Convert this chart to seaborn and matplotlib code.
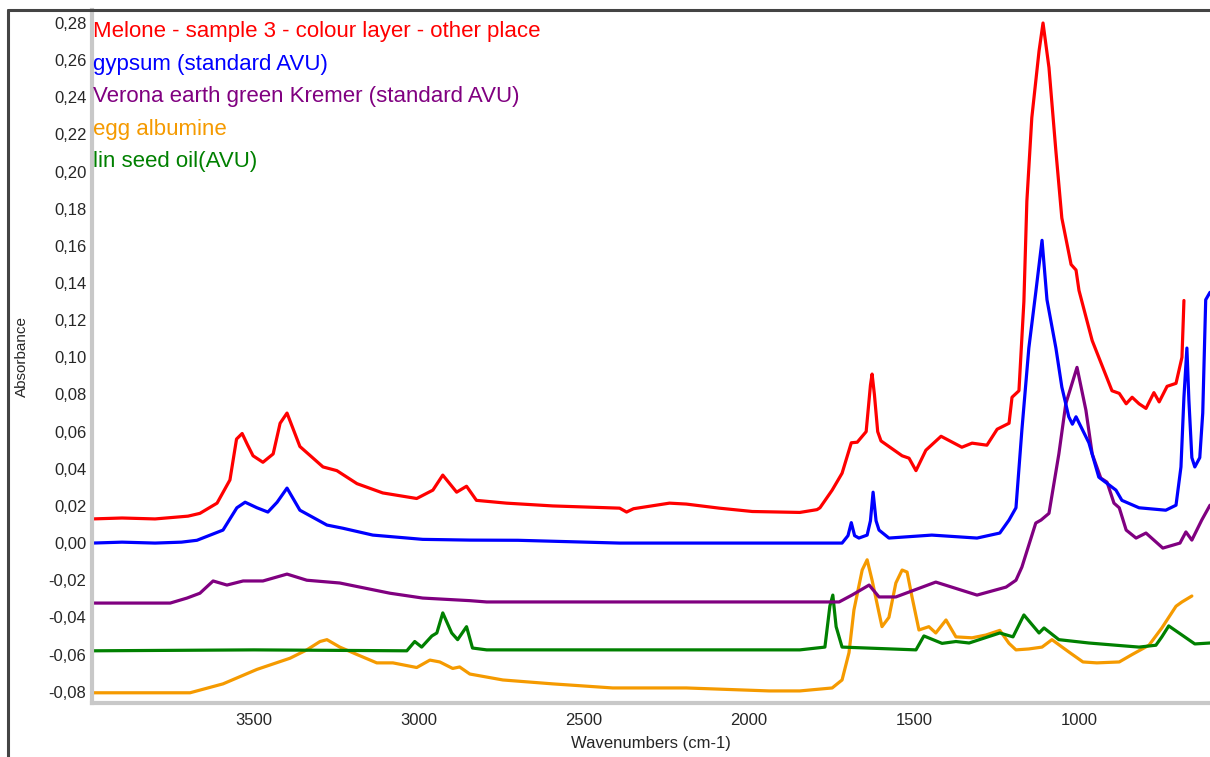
import numpy as np
import pandas as pd
import matplotlib
matplotlib.use("Agg")
import matplotlib.pyplot as plt
import seaborn as sns
from matplotlib.ticker import MultipleLocator, FuncFormatter
from matplotlib.lines import Line2D

melone_wn = [3990, 3900, 3800, 3700, 3664, 3612, 3573, 3553, 3536, 3520, 3503, 3473, 3442, 3421,
             3400, 3361, 3291, 3249, 3188, 3110, 3007, 2958, 2928, 2886, 2856, 2826, 2735, 2595,
             2392, 2371, 2350, 2241, 2190, 2090, 1990, 1846, 1794, 1785, 1748, 1718, 1690, 1672,
             1645, 1632, 1627, 1620, 1610, 1600, 1576, 1536, 1515, 1494, 1464, 1418, 1355, 1324,
             1279, 1248, 1212, 1203, 1182, 1167, 1158, 1143, 1121, 1109, 1091, 1070, 1052, 1024,
             1009, 1000, 960, 900, 878, 857, 839, 818, 797, 773, 757, 733, 706, 688, 684, 682]
melone_abs = [0.013, 0.0135, 0.013, 0.0145, 0.016, 0.0215, 0.034, 0.056, 0.059, 0.053, 0.047,
              0.0435, 0.048, 0.0645, 0.070, 0.052, 0.041, 0.039, 0.032, 0.027, 0.024, 0.0285,
              0.0366, 0.0274, 0.0306, 0.023, 0.0215, 0.020, 0.0188, 0.0167, 0.0185, 0.0215, 0.021,
              0.0188, 0.017, 0.0165, 0.018, 0.019, 0.0285, 0.0376, 0.054, 0.0543, 0.060, 0.085,
              0.091, 0.080, 0.060, 0.055, 0.052, 0.047, 0.0457, 0.039, 0.050, 0.0575, 0.0516,
              0.0538, 0.0527, 0.0613, 0.0645, 0.0785, 0.082, 0.13, 0.184, 0.229, 0.265, 0.280,
              0.256, 0.211, 0.175, 0.150, 0.147, 0.136, 0.109, 0.082, 0.0806, 0.075, 0.0785, 0.075,
              0.0725, 0.081, 0.076, 0.0844, 0.086, 0.100, 0.120, 0.1306]

gypsum_wn = [3990, 3900, 3800, 3720, 3673, 3594, 3552, 3527, 3491, 3458, 3430, 3400, 3361, 3279,
             3231, 3140, 2989, 2846, 2700, 2392, 2000, 1846, 1718, 1700, 1690, 1680, 1667, 1642,
             1632, 1624, 1615, 1606, 1576, 1446, 1309, 1240, 1212, 1191, 1173, 1152, 1131, 1112,
             1097, 1070, 1052, 1031, 1020, 1009, 970, 940, 888, 870, 818, 737, 706, 691, 682,
             673, 667, 658, 649, 634, 625, 616, 603]
gypsum_abs = [0.0, 0.0005, 0.0, 0.0005, 0.0015, 0.007, 0.019, 0.022, 0.019, 0.0167, 0.022,
              0.0296, 0.0177, 0.0097, 0.008, 0.0043, 0.002, 0.0016, 0.0015, 0.0, 0.0, 0.0, 0.0,
              0.004, 0.011, 0.004, 0.0027, 0.0043, 0.012, 0.0274, 0.012, 0.007, 0.0027, 0.0043,
              0.0027, 0.0054, 0.0124, 0.019, 0.061, 0.105, 0.135, 0.163, 0.131, 0.105, 0.084,
              0.068, 0.064, 0.068, 0.054, 0.0355, 0.0285, 0.023, 0.019, 0.0177, 0.0204, 0.041,
              0.0785, 0.105, 0.077, 0.046, 0.041, 0.046, 0.070, 0.131, 0.135]

verona_wn = [3990, 3754, 3703, 3664, 3624, 3582, 3533, 3473, 3400, 3340, 3240, 3088, 2989, 2846,
             2795, 2500, 2000, 1846, 1727, 1688, 1636, 1606, 1555, 1434, 1309, 1221, 1191, 1173,
             1131, 1115, 1091, 1061, 1040, 1006, 979, 960, 934, 915, 894, 878, 857, 827, 797, 746,
             694, 676, 658, 628, 603]
verona_abs = [-0.0323, -0.0323, -0.0296, -0.027, -0.0204, -0.0226, -0.0204, -0.0204, -0.0167,
              -0.020, -0.0215, -0.027, -0.0296, -0.031, -0.0317, -0.0317, -0.0317, -0.0317,
              -0.0317, -0.028, -0.0226, -0.029, -0.029, -0.021, -0.028, -0.0237, -0.020, -0.0129,
              0.0108, 0.0124, 0.016, 0.048, 0.075, 0.0946, 0.0715, 0.048, 0.035, 0.0328, 0.0215,
              0.019, 0.007, 0.0027, 0.0054, -0.0027, 0.0, 0.006, 0.0016, 0.0124, 0.0204]

egg_wn = [3990, 3694, 3594, 3491, 3391, 3340, 3300, 3279, 3240, 3188, 3128, 3079, 3007, 2967,
          2937, 2898, 2877, 2846, 2746, 2595, 2413, 2190, 1939, 1846, 1748, 1718, 1697, 1682,
          1657, 1642, 1627, 1606, 1597, 1576, 1555, 1536, 1521, 1506, 1485, 1455, 1434, 1403,
          1373, 1324, 1282, 1240, 1212, 1191, 1152, 1112, 1082, 1031, 988, 946, 878, 839, 788,
          749, 706, 688, 658]
egg_abs = [-0.0806, -0.0806, -0.0758, -0.068, -0.062, -0.0575, -0.053, -0.052, -0.056, -0.060,
           -0.0645, -0.0645, -0.067, -0.063, -0.064, -0.0675, -0.0667, -0.0705, -0.0737, -0.0758,
           -0.078, -0.078, -0.0796, -0.0796, -0.078, -0.0737, -0.059, -0.036, -0.0145, -0.009,
           -0.020, -0.0376, -0.045, -0.040, -0.0215, -0.0145, -0.0156, -0.029, -0.0468, -0.045,
           -0.0484, -0.0414, -0.0505, -0.051, -0.0495, -0.047, -0.054, -0.0575, -0.057, -0.056,
           -0.052, -0.0586, -0.064, -0.0645, -0.064, -0.060, -0.055, -0.0457, -0.034, -0.0317,
           -0.0285]

oil_wn = [3990, 3500, 3037, 3013, 2992, 2961, 2946, 2928, 2901, 2883, 2856, 2838, 2795, 2000,
          1846, 1770, 1755, 1746, 1736, 1718, 1494, 1470, 1415, 1373, 1333, 1240, 1200, 1167,
          1121, 1106, 1061, 970, 888, 818, 767, 749, 728, 688, 649, 603]
oil_abs = [-0.058, -0.0575, -0.058, -0.053, -0.056, -0.050, -0.0484, -0.0376, -0.0484, -0.052,
           -0.045, -0.0565, -0.0575, -0.0575, -0.0575, -0.056, -0.034, -0.028, -0.045, -0.056,
           -0.0575, -0.050, -0.054, -0.053, -0.0538, -0.0484, -0.0505, -0.0387, -0.0484, -0.0457,
           -0.052, -0.0538, -0.055, -0.056, -0.055, -0.0505, -0.0446, -0.0495, -0.0543, -0.0538]

nombres = ["Melone - sample 3 - colour layer - other place", "gypsum (standard AVU)",
           "Verona earth green Kremer (standard AVU)", "egg albumine", "lin seed oil(AVU)"]
colores = ["#ff0000", "#0000ff", "#800080", "#f59a00", "#008000"]
series = [(melone_wn, melone_abs), (gypsum_wn, gypsum_abs), (verona_wn, verona_abs),
          (egg_wn, egg_abs), (oil_wn, oil_abs)]

sns.set_style("white")
plt.rcParams['font.family'] = ['Liberation Sans', 'DejaVu Sans']

fig = plt.figure(figsize=(12.1, 7.57), dpi=100)
ax = fig.add_axes([92 / 1210, 54 / 757, 1 - 92 / 1210, 693 / 757])

# Orden de dibujo: los de abajo primero
for i in [3, 4, 2, 1, 0]:
    df = pd.DataFrame({'wn': series[i][0], 'abs': series[i][1]})
    sns.lineplot(data=df, x='wn', y='abs', sort=False, estimator=None, color=colores[i],
                 linewidth=2.3, ax=ax)

ax.set_xlim(3991, 603)
ax.set_ylim(-0.0861, 0.287)

ax.xaxis.set_major_locator(MultipleLocator(500))
ax.xaxis.set_minor_locator(MultipleLocator(100))
ax.yaxis.set_major_locator(MultipleLocator(0.02))
ax.yaxis.set_minor_locator(MultipleLocator(0.004))
ax.yaxis.set_major_formatter(FuncFormatter(lambda v, p: f"{v:.2f}".replace('.', ',').replace('-0,00', '0,00')))
ax.xaxis.set_major_formatter(FuncFormatter(lambda v, p: f"{v:.0f}"))

ax.tick_params(axis='both', which='major', direction='inout', length=4, width=1.2,
               color='#222222', labelsize=12, pad=2)
ax.tick_params(axis='both', which='minor', direction='inout', length=3, width=1.2,
               color='#222222')
ax.tick_params(axis='x', pad=5)

for s in ['top', 'right']:
    ax.spines[s].set_visible(False)
for s in ['left', 'bottom']:
    ax.spines[s].set_color('#c8c8c8')
    ax.spines[s].set_linewidth(3)

ax.set_xlabel('Wavenumbers (cm-1)', fontsize=12, labelpad=6)
ax.set_ylabel('Absorbance', fontsize=11, labelpad=14)

# Leyenda como texto coloreado
for i, nombre in enumerate(nombres):
    ax.text(0.001, 0.969 - i * 0.047, nombre, transform=ax.transAxes, color=colores[i],
            fontsize=16, ha='left', va='center')

# Marco de la ventana
fig.add_artist(Line2D([8 / 1210, 1], [1 - 10 / 757, 1 - 10 / 757], color='#444444',
                      linewidth=2.2, transform=fig.transFigure))
fig.add_artist(Line2D([8 / 1210, 8 / 1210], [0, 1 - 10 / 757], color='#444444',
                      linewidth=2.2, transform=fig.transFigure))

plt.savefig('out.png', dpi=100)
